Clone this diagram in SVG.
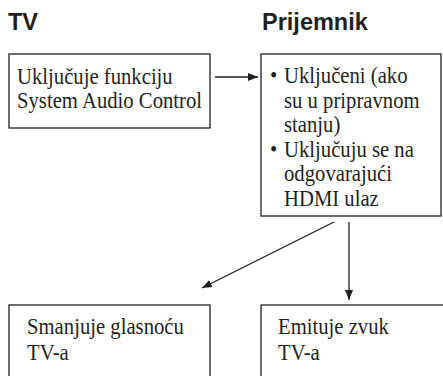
<svg xmlns="http://www.w3.org/2000/svg" width="443" height="376" viewBox="0 0 443 376">
<style>
.h{font-family:"Liberation Sans",Arial,sans-serif;font-weight:bold;font-size:23.5px;fill:#231f20}
.t{font-family:"Liberation Serif","Times New Roman",serif;font-size:22.5px;fill:#231f20}
.box{fill:#fff;stroke:#231f20;stroke-width:1.3}
.c{stroke:#231f20;stroke-width:1.3;fill:none}
</style>
<defs>
<marker id="ah" viewBox="0 0 10 10" refX="10" refY="5" markerWidth="10" markerHeight="10" markerUnits="userSpaceOnUse" orient="auto">
<path d="M0,1 L10,5 L0,9 Z" fill="#231f20"/>
</marker>
</defs>
<rect width="443" height="376" fill="#fff"/>
<text class="h" x="8" y="30">TV</text>
<text class="h" x="262" y="30">Prijemnik</text>
<g id="tv-box">
<rect class="box" x="9" y="54" width="201" height="74"/>
<text class="t" transform="translate(17,84) scale(0.92,1)">Uključuje funkciju</text>
<text class="t" transform="translate(17,108) scale(0.92,1)">System Audio Control</text>
</g>
<g id="receiver-box">
<rect class="box" x="261" y="54" width="180" height="162"/>
<text class="t" transform="translate(270,83) scale(0.92,1)">•</text>
<text class="t" transform="translate(284,83) scale(0.92,1)">Uključeni (ako</text>
<text class="t" transform="translate(284,107.5) scale(0.92,1)">su u pripravnom</text>
<text class="t" transform="translate(284,132) scale(0.92,1)">stanju)</text>
<text class="t" transform="translate(270,156.5) scale(0.92,1)">•</text>
<text class="t" transform="translate(284,156.5) scale(0.92,1)">Uključuju se na</text>
<text class="t" transform="translate(284,181) scale(0.92,1)">odgovarajući</text>
<text class="t" transform="translate(284,205.5) scale(0.92,1)">HDMI ulaz</text>
</g>
<g id="volume-box">
<rect class="box" x="9" y="305" width="201" height="80"/>
<text class="t" transform="translate(27,334) scale(0.92,1)">Smanjuje glasnoću</text>
<text class="t" transform="translate(27,360) scale(0.92,1)">TV-a</text>
</g>
<g id="sound-box">
<rect class="box" x="261" y="305" width="190" height="80"/>
<text class="t" transform="translate(278,334) scale(0.92,1)">Emituje zvuk</text>
<text class="t" transform="translate(278,360) scale(0.92,1)">TV-a</text>
</g>
<g id="connectors">
<line class="c" x1="215" y1="77" x2="258" y2="77" marker-end="url(#ah)"/>
<line class="c" x1="334" y1="222" x2="202" y2="288" marker-end="url(#ah)"/>
<line class="c" x1="349" y1="222" x2="349" y2="300" marker-end="url(#ah)"/>
</g>
</svg>
